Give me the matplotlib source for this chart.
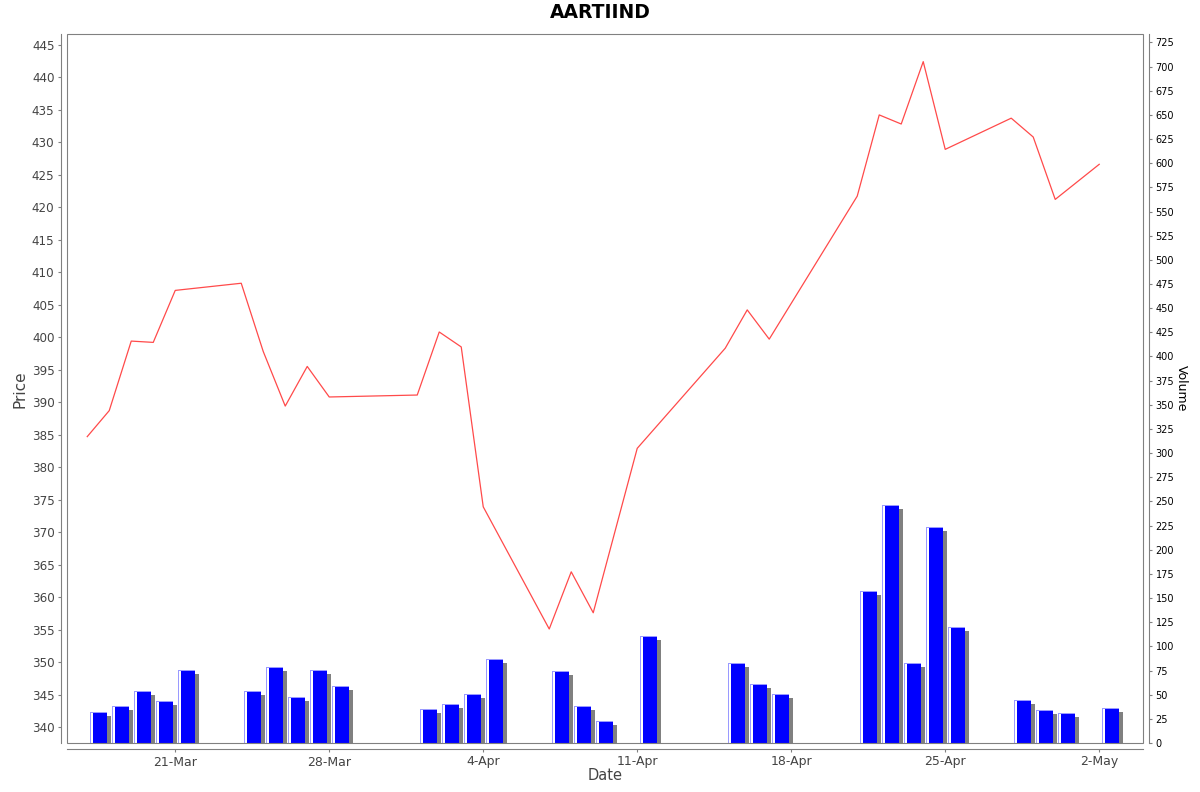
import matplotlib
matplotlib.use("Agg")
import matplotlib.pyplot as plt
import matplotlib.dates as mdates
import matplotlib.transforms as mtransforms
from matplotlib.patches import Rectangle
import numpy as np

# ---------------- data ----------------
dates = ["2022-03-17", "2022-03-18", "2022-03-19", "2022-03-20", "2022-03-21",
         "2022-03-24", "2022-03-25", "2022-03-26", "2022-03-27", "2022-03-28",
         "2022-04-01", "2022-04-02", "2022-04-03", "2022-04-04",
         "2022-04-07", "2022-04-08", "2022-04-09",
         "2022-04-11",
         "2022-04-15", "2022-04-16", "2022-04-17",
         "2022-04-21", "2022-04-22", "2022-04-23", "2022-04-24", "2022-04-25",
         "2022-04-28", "2022-04-29", "2022-04-30",
         "2022-05-02"]
prices = [384.7, 388.7, 399.4, 399.2, 407.2,
          408.3, 397.8, 389.4, 395.5, 390.8,
          391.1, 400.8, 398.5, 373.9,
          355.1, 363.9, 357.6,
          382.9,
          398.3, 404.2, 399.7,
          421.7, 434.2, 432.8, 442.4, 428.9,
          433.7, 430.8, 421.2,
          426.6]
volumes = [32.0, 38.2, 54.2, 43.1, 75.3,
           54.2, 78.5, 47.2, 75.3, 59.0,
           35.1, 40.3, 51.0, 87.2,
           74.3, 38.2, 22.8,
           111.1,
           83.0, 61.1, 51.0,
           157.6, 246.2, 83.0, 224.0, 120.1,
           44.1, 33.7, 30.6,
           36.1]
tick_dates = ["2022-03-21", "2022-03-28", "2022-04-04", "2022-04-11",
              "2022-04-18", "2022-04-25", "2022-05-02"]
tick_labels = ["21-Mar", "28-Mar", "4-Apr", "11-Apr", "18-Apr", "25-Apr", "2-May"]
price_ticks = list(range(340, 446, 5))
volume_ticks = list(range(0, 726, 25))
title = "AARTIIND"

# ---------------- figure ----------------
W, H = 1200, 792
fig = plt.figure(figsize=(W / 100, H / 100), dpi=100)
fig.patch.set_facecolor("white")
L, R, T, B = 67, 1143, 34, 743
ax = fig.add_axes([L / W, 1 - B / H, (R - L) / W, (B - T) / H])
ax2 = ax.twinx()

x = mdates.date2num(np.array(dates, dtype="datetime64[D]"))
xt = mdates.date2num(np.array(tick_dates, dtype="datetime64[D]"))

gray = "#808080"
txt = "#444444"

# volume bars (JFreeChart-like with shadow)
bar_w = 0.8
x0 = x + 0.12
shadow = ax2.transData + mtransforms.ScaledTranslation(0.035, -0.04, fig.dpi_scale_trans)
v = np.array(volumes)
ax2.bar(x0, v, width=bar_w, align="edge", color=gray, transform=shadow, zorder=1, linewidth=0)
ax2.bar(x0, v, width=bar_w, align="edge", color="#9a9aff", zorder=2, linewidth=0)
ax2.bar(x0 + 0.045, v - 1.0, width=bar_w - 0.045, align="edge", color="white", zorder=3, linewidth=0)
ax2.bar(x0 + 0.12, v - 1.0, width=bar_w - 0.12, align="edge", color="#0000ff", zorder=4, linewidth=0)

# price line
ax.set_zorder(ax2.get_zorder() + 1)
ax.patch.set_visible(False)
ax.plot(x, prices, color="#ff4a4a", lw=0.9, zorder=5)

# limits
ax.set_xlim(xt[0] - 4.92, xt[-1] + 1.99)
ax.set_ylim(337.56, 446.65)
ax2.set_ylim(0, 733.7)

# ticks
ax.set_xticks(xt)
ax.set_xticklabels(tick_labels)
ax.set_yticks(price_ticks)
ax2.set_yticks(volume_ticks)
ax.tick_params(axis="x", direction="out", length=2, width=0.8, color=gray,
               labelsize=9, labelcolor=txt, pad=3)
ax.tick_params(axis="y", direction="out", length=2, width=0.8, color=gray,
               labelsize=8.6, labelcolor=txt, pad=3)
ax2.tick_params(axis="y", direction="out", length=2, width=0.8, color=gray,
                labelsize=7, labelcolor="black", pad=3)

# spines
for s in ["right"]:
    ax.spines[s].set_visible(False)
ax.spines["top"].set_visible(False)
ax.spines["left"].set_position(("outward", 4))
ax.spines["bottom"].set_position(("outward", 4))
for s in ["left", "bottom"]:
    ax.spines[s].set_color(gray)
    ax.spines[s].set_linewidth(0.8)
for s in ["left", "top", "bottom"]:
    ax2.spines[s].set_visible(False)
ax2.spines["right"].set_position(("outward", 4))
ax2.spines["right"].set_color(gray)
ax2.spines["right"].set_linewidth(0.8)

# plot border
ax.add_patch(Rectangle((0, 0), 1, 1, transform=ax.transAxes, fill=False,
                       edgecolor=gray, lw=0.8, clip_on=False, zorder=10))

# labels
fig.text(600 / W, 1 - 13 / H, title, ha="center", va="center",
         fontsize=13.5, fontweight="bold", color="black")
fig.text(20 / W, 1 - 389 / H, "Price", rotation=90, ha="center", va="center",
         fontsize=11, color=txt)
fig.text(605 / W, 1 - 775.5 / H, "Date", ha="center", va="center",
         fontsize=10.5, color=txt)
fig.text(1181.5 / W, 1 - 388.5 / H, "Volume", rotation=-90, ha="center", va="center",
         fontsize=9, color="black")

fig.savefig("out.png", dpi=100, facecolor="white")
